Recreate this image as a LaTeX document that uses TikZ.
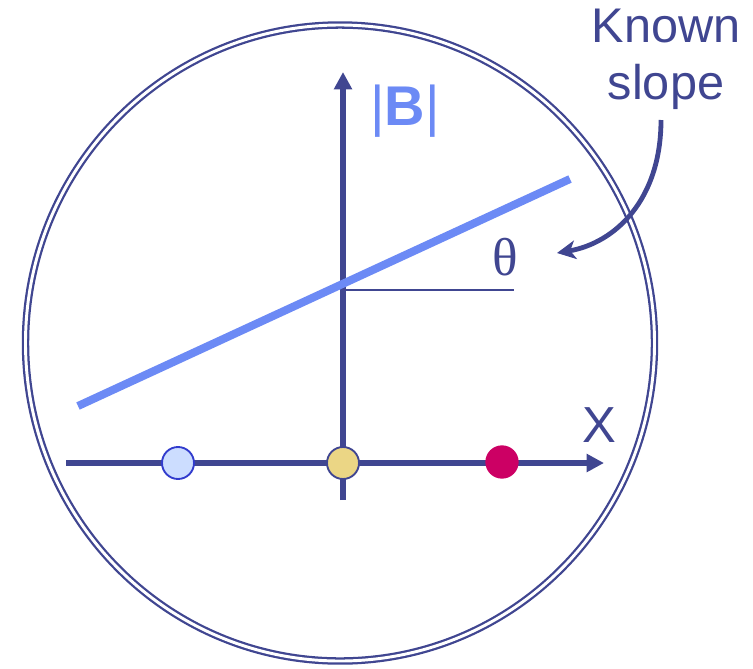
\documentclass[tikz,border=0pt]{standalone}
\usepackage{fontspec}
\setsansfont{Liberation Sans}
\newfontfamily\thetafont{Liberation Serif}
\usetikzlibrary{arrows.meta}
\definecolor{axisnavy}{RGB}{64,70,145}
\definecolor{slopeblue}{RGB}{108,138,245}
\definecolor{paleblue}{RGB}{204,221,255}
\definecolor{ringblue}{RGB}{50,60,205}
\definecolor{sand}{RGB}{235,214,133}
\definecolor{berry}{RGB}{204,0,100}

\begin{document}
\begin{tikzpicture}[
    x=0.75pt,y=-0.75pt,
    axis/.style={draw=axisnavy,line width=4pt,-{Triangle[length=13pt,width=13pt]}},
    ring/.style={draw=axisnavy,double=white,line width=1.7pt,double distance=2.2pt},
    dot/.style={circle,inner sep=0pt,minimum size=24pt,line width=1.4pt},
    slopeline/.style={draw=slopeblue,line width=6pt},
    curvedarrow/.style={draw=axisnavy,line width=3.6pt,-{Stealth[length=14pt,width=14pt,inset=4pt]}},
    textnote/.style={font=\sffamily\fontsize{36.5}{43}\selectfont,text=axisnavy,align=center,inner sep=0pt}
]
\useasboundingbox (0,0) rectangle (753,668);

% frame
\draw[ring] (340,343) ellipse [x radius=314.5,y radius=318];

% axes
\coordinate (O) at (343,463);
\coordinate (xstart) at (66,463);
\coordinate (xend) at (604,463);
\coordinate (ystart) at (343,500);
\coordinate (yend) at (343,72);
\draw[axis] (xstart) -- (xend);
\draw[axis] (ystart) -- (yend);

% fitted line and angle
\coordinate (slopeleft) at (78,406);
\coordinate (sloperight) at (570,179);
\draw[slopeline] (slopeleft) -- (sloperight);
\coordinate (hstart) at (343,290);
\coordinate (hend) at (514,290);
\draw[draw=axisnavy,line width=1.1pt] (hstart) -- (hend);

% points on the axis
\node[dot,fill=paleblue,draw=ringblue] (pleft) at (178,463) {};
\node[dot,fill=sand,draw=axisnavy] (pmid) at (O) {};
\node[dot,fill=berry,minimum size=25pt] (pright) at (502,462) {};

% labels
\node[font=\sffamily\fontsize{42}{42}\selectfont,text=slopeblue,inner sep=0pt] (Blabel) at (405,111) {|\textbf{B}|};
\node[font=\sffamily\fontsize{38}{38}\selectfont,text=axisnavy,inner sep=0pt] (Xlabel) at (599,425) {X};
\node[font=\thetafont\fontsize{40}{40}\selectfont,text=axisnavy,inner sep=0pt] (theta) at (505,257) {θ};
\node[textnote] (known) at (666,59) {Known\\slope};

\coordinate (arrowstart) at (661,120);
\coordinate (arrowtip) at (557,253);
\draw[curvedarrow] (arrowstart) .. controls (661,200) and (615,243) .. (arrowtip);

\end{tikzpicture}
\end{document}
